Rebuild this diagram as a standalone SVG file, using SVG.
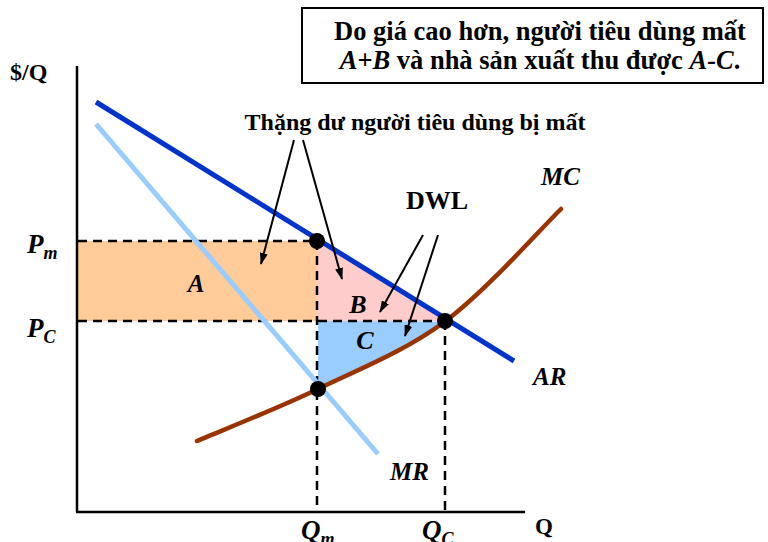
<svg xmlns="http://www.w3.org/2000/svg" width="768" height="542" viewBox="0 0 768 542">
<defs>
<marker id="ah" markerWidth="12" markerHeight="8" refX="11" refY="4" orient="auto" markerUnits="userSpaceOnUse">
<path d="M0,0 L12,4 L0,8 Z" fill="#000"/>
</marker>
<style>
.t{font-family:"Liberation Serif","Times New Roman",serif;font-weight:bold;fill:#000}
.i{font-style:italic}
.dash{stroke:#000;stroke-width:2.5;stroke-dasharray:9,6;fill:none}
.arr{stroke:#000;stroke-width:2;fill:none;marker-end:url(#ah)}
.dot{fill:#000}
</style>
</defs>
<rect width="768" height="542" fill="#fff"/>
<g id="areas">
<rect id="areaA" x="77" y="241" width="240" height="80" fill="#FFCC99"/>
<polygon id="areaB" points="317,241 445,321 317,321" fill="#FFCCCC"/>
<path id="areaC" d="M318,321 L445,321.5 C404.5,351.5 359.3,369.1 318,389 Z" fill="#99CCFF"/>
</g>
<g id="axes" stroke="#000" stroke-width="2.5" fill="none">
<line x1="77" y1="66" x2="77" y2="512"/>
<line x1="76" y1="512" x2="525" y2="512"/>
</g>
<g id="guides">
<line class="dash" x1="78" y1="241" x2="317" y2="241"/>
<line class="dash" x1="78" y1="321" x2="445" y2="321"/>
<line class="dash" x1="317" y1="241" x2="317" y2="512"/>
<line class="dash" x1="445" y1="321" x2="445" y2="512"/>
</g>
<g id="curves" fill="none" stroke-linecap="butt">
<line id="MR" x1="96" y1="124" x2="378" y2="454" stroke="#99CCFF" stroke-width="5"/>
<line id="AR" x1="96" y1="102" x2="514" y2="361" stroke="#0033CC" stroke-width="5"/>
<path id="MC" d="M197,441 C217,432.3 276.7,408.9 318,389 C359.3,369.1 404.5,351.5 445,321.5 C485.5,291.5 541.7,227.75 561,209" stroke="#993300" stroke-width="4.5" stroke-linecap="round"/>
</g>
<g id="points">
<circle class="dot" cx="317" cy="241" r="8"/>
<circle class="dot" cx="445" cy="321" r="8"/>
<circle class="dot" cx="318" cy="389" r="8"/>
</g>
<g id="connectors">
<line class="arr" x1="294" y1="140" x2="261" y2="264"/>
<line class="arr" x1="303" y1="140" x2="342" y2="279"/>
<line class="arr" x1="423" y1="235" x2="380" y2="312"/>
<line class="arr" x1="438" y1="235" x2="405" y2="336"/>
</g>
<g id="box">
<rect x="302" y="8" width="461" height="75" fill="#fff" stroke="#000" stroke-width="2"/>
<text class="t" x="540" y="40" font-size="26.5" text-anchor="middle">Do giá cao hơn, người tiêu dùng mất</text>
<text class="t" x="540" y="69" font-size="26.5" text-anchor="middle"><tspan class="i">A+B</tspan> và nhà sản xuất thu được <tspan class="i">A-C</tspan>.</text>
</g>
<g id="labels">
<text class="t" x="10" y="80" font-size="24">$/Q</text>
<text class="t i" x="27" y="253" font-size="27">P<tspan font-size="18" dy="6">m</tspan></text>
<text class="t i" x="27" y="337" font-size="27">P<tspan font-size="18" dy="6">C</tspan></text>
<text class="t i" x="196" y="292" font-size="25" text-anchor="middle">A</text>
<text class="t i" x="358" y="313" font-size="26" text-anchor="middle">B</text>
<text class="t i" x="365" y="349" font-size="26" text-anchor="middle">C</text>
<text class="t i" x="541" y="185" font-size="25">MC</text>
<text class="t i" x="533" y="385" font-size="25">AR</text>
<text class="t i" x="390" y="480" font-size="25">MR</text>
<text class="t i" x="301" y="539" font-size="27">Q<tspan font-size="18" dy="6">m</tspan></text>
<text class="t i" x="422" y="539" font-size="27">Q<tspan font-size="18" dy="6">C</tspan></text>
<text class="t" x="535" y="534" font-size="23">Q</text>
<text class="t" x="437" y="209" font-size="26" text-anchor="middle">DWL</text>
<text class="t" x="415" y="130" font-size="24" text-anchor="middle">Thặng dư người tiêu dùng bị mất</text>
</g>
</svg>
